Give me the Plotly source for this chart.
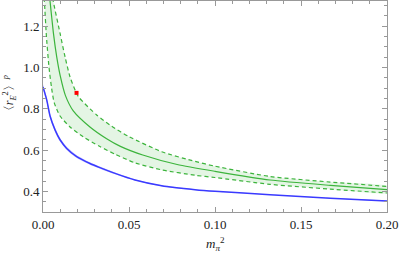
import plotly.graph_objects as go

# Blue curve (central) and its narrow band
blue_x = [0.0, 0.0022, 0.0041, 0.0070, 0.0099, 0.0138, 0.0196, 0.0273, 0.0331, 0.0419, 0.0535, 0.069, 0.0884, 0.100, 0.132, 0.167, 0.200]
blue_y = [0.906, 0.842, 0.765, 0.698, 0.650, 0.608, 0.568, 0.535, 0.515, 0.487, 0.455, 0.427, 0.408, 0.400, 0.384, 0.367, 0.353]
blue_lo = [0.893, 0.830, 0.754, 0.688, 0.641, 0.600, 0.561, 0.529, 0.510, 0.483, 0.452, 0.424, 0.406, 0.398, 0.383, 0.366, 0.352]
blue_hi = [0.919, 0.854, 0.776, 0.708, 0.659, 0.616, 0.575, 0.541, 0.520, 0.491, 0.458, 0.430, 0.410, 0.402, 0.385, 0.368, 0.354]

# Green central curve
green_x = [0.0035, 0.0041, 0.006, 0.008, 0.010, 0.013, 0.0176, 0.0273, 0.037, 0.045, 0.058, 0.078, 0.100, 0.132, 0.167, 0.200]
green_y = [1.36, 1.32, 1.17, 1.05, 0.96, 0.865, 0.79, 0.712, 0.655, 0.618, 0.576, 0.530, 0.497, 0.455, 0.429, 0.408]

# Green upper dashed boundary
up_x = [0.0052, 0.006, 0.0099, 0.0128, 0.0157, 0.0205, 0.0312, 0.040, 0.050, 0.069, 0.0884, 0.100, 0.132, 0.167, 0.200]
up_y = [1.37, 1.32, 1.166, 1.052, 0.955, 0.860, 0.770, 0.715, 0.665, 0.592, 0.545, 0.522, 0.472, 0.445, 0.424]

# Green lower dashed boundary
lo_x = [0.0003, 0.0008, 0.002, 0.0035, 0.005, 0.0065, 0.0099, 0.0157, 0.0234, 0.0331, 0.0419, 0.0535, 0.069, 0.0884, 0.100, 0.132, 0.167, 0.200]
lo_y = [1.37, 1.32, 1.15, 1.00, 0.90, 0.83, 0.765, 0.712, 0.664, 0.617, 0.580, 0.538, 0.504, 0.478, 0.467, 0.434, 0.411, 0.392]

# Experimental point
pt_x = [0.0195]
pt_y = [0.877]

BLUE = "#3a3aff"
GREEN = "#3cb43c"
SERIF = "Times New Roman, Liberation Serif, serif"

fig = go.Figure()

fig.add_trace(go.Scatter(
    x=lo_x + up_x[::-1], y=lo_y + up_y[::-1],
    fill="toself", fillcolor="rgba(170,225,170,0.32)",
    line=dict(width=0, shape="spline", smoothing=0.6), mode="lines",
    hoverinfo="skip", showlegend=False))

fig.add_trace(go.Scatter(
    x=blue_x + blue_x[::-1], y=blue_lo + blue_hi[::-1],
    fill="toself", fillcolor="rgba(150,150,255,0.55)",
    line=dict(width=0, shape="spline", smoothing=0.6), mode="lines",
    hoverinfo="skip", showlegend=False))

fig.add_trace(go.Scatter(x=blue_x, y=blue_y, mode="lines",
                         line=dict(color=BLUE, width=1.5, shape="spline", smoothing=0.6),
                         showlegend=False))
fig.add_trace(go.Scatter(x=up_x, y=up_y, mode="lines",
                         line=dict(color=GREEN, width=1.2, dash="4px,3px", shape="spline", smoothing=0.6),
                         showlegend=False))
fig.add_trace(go.Scatter(x=lo_x, y=lo_y, mode="lines",
                         line=dict(color=GREEN, width=1.2, dash="4px,3px", shape="spline", smoothing=0.6),
                         showlegend=False))
fig.add_trace(go.Scatter(x=green_x, y=green_y, mode="lines",
                         line=dict(color=GREEN, width=1.2, shape="spline", smoothing=0.6),
                         showlegend=False))
fig.add_trace(go.Scatter(x=pt_x, y=pt_y, mode="markers",
                         marker=dict(symbol="square", size=4, color="red"),
                         showlegend=False))

axis_common = dict(
    showgrid=False, zeroline=False, showline=True, linecolor="#999999", linewidth=1,
    mirror="ticks", ticks="inside", tickcolor="#999999", ticklen=5, tickwidth=1,
    tickfont=dict(family=SERIF, size=13, color="#222222"),
    ticklabeloverflow="allow",
)

fig.update_xaxes(range=[0, 0.2], dtick=0.05, tick0=0, tickformat=".2f",
                 minor=dict(dtick=0.01, ticks="inside", ticklen=3, tickcolor="#999999"),
                 **axis_common)
fig.update_yaxes(range=[0.3, 1.322], dtick=0.2, tick0=0.4, tickformat=".1f",
                 minor=dict(dtick=0.05, ticks="inside", ticklen=3, tickcolor="#999999"),
                 **axis_common)

fig.add_annotation(x=0.5, y=-0.1, xref="paper", yref="paper", yanchor="top",
                   text="<i>m<sub>π</sub></i><sup>2</sup>", showarrow=False,
                   font=dict(family=SERIF, size=13, color="#222222"))
fig.add_annotation(x=-0.095, y=0.55, xref="paper", yref="paper", xanchor="center",
                   textangle=-90,
                   text="〈<i>r<sub>E</sub></i><sup>2</sup>〉<sup><i>p</i></sup>", showarrow=False,
                   font=dict(family=SERIF, size=12, color="#222222"))

fig.update_layout(
    width=399, height=253,
    margin=dict(l=43, r=12, t=1, b=41, autoexpand=False),
    paper_bgcolor="white", plot_bgcolor="white",
    font=dict(family=SERIF),
)

fig.write_html("out.html", config={"displayModeBar": False},
               post_script="document.body.style.margin='0';")
